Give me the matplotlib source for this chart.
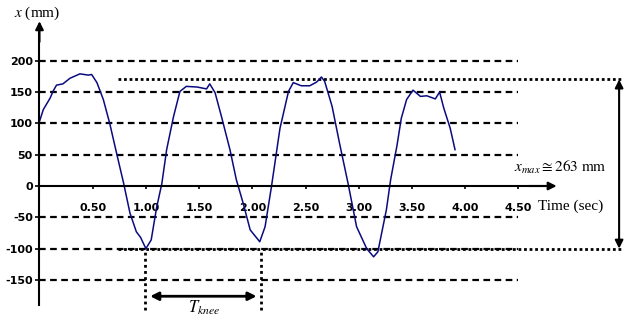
import matplotlib
matplotlib.use('Agg')
import matplotlib.pyplot as plt

plt.rcParams['mathtext.fontset'] = 'stix'
plt.rcParams['axes.unicode_minus'] = False

# knee displacement over time
time_s = [0, 0.036, 0.099, 0.13, 0.16, 0.22, 0.287, 0.38, 0.42, 0.46, 0.49, 0.54,
          0.60, 0.66, 0.725, 0.79, 0.85, 0.91, 0.95, 1.00, 1.05, 1.10, 1.15,
          1.195, 1.26, 1.32, 1.38, 1.48, 1.57, 1.60, 1.65, 1.71, 1.79, 1.85,
          1.915, 1.98, 2.07, 2.12, 2.18, 2.26, 2.34, 2.385, 2.46, 2.54, 2.605,
          2.65, 2.68, 2.75, 2.82, 2.90, 2.98, 3.075, 3.14, 3.18, 3.26, 3.30,
          3.36, 3.40, 3.45, 3.51, 3.58, 3.64, 3.72, 3.76, 3.80, 3.86, 3.905]
x_mm = [103, 122, 140, 152, 161, 163, 172, 179, 178, 177, 178, 165,
        138, 100, 52, 5, -43, -73, -82, -100, -86, -35, 4,
        58, 111, 151, 159, 158, 155, 163, 149, 111, 58, 10,
        -28, -70, -89, -65, -1, 92, 151, 165, 160, 160, 166,
        174, 167, 127, 68, 4, -65, -100, -113, -105, -38, 10,
        65, 108, 138, 153, 143, 144, 139, 150, 124, 92, 58]

grid_levels = [200, 150, 100, 50, -50, -100, -150]
x_ticks = [0.5, 1.0, 1.5, 2.0, 2.5, 3.0, 3.5, 4.0, 4.5]
y_ticks = [-150, -100, -50, 0, 50, 100, 150, 200]
x_high = 170
x_low = -100
t_min1 = 0.99
t_min2 = 2.08

fig = plt.figure(figsize=(6.24, 3.22), dpi=100)
ax = fig.add_axes([0, 0, 1, 1])
ax.set_xlim(-0.371, 5.493)
ax.set_ylim(-217.1, 296.9)

# dashed reference levels
ax.hlines(grid_levels, 0, 4.5, colors='black', linestyles=(0, (3, 2)), lw=1.6)
# dotted max / min levels
ax.hlines([x_high, x_low], 0.74, 5.47, colors='black', linestyles=(0, (1, 1)), lw=2)
# vertical dotted lines at the minima
ax.vlines([t_min1, t_min2], -198, x_low, colors='black', linestyles=(0, (1, 1.2)), lw=2)

ax.plot(time_s, x_mm, color='#0b0b80', lw=1.1)

# axes
for s in ['top', 'right']:
    ax.spines[s].set_visible(False)
ax.spines['left'].set_position(('data', 0))
ax.spines['bottom'].set_position(('data', 0))
ax.spines['left'].set_bounds(-190, 250)
ax.spines['bottom'].set_bounds(0, 4.75)
ax.spines['left'].set_linewidth(1.5)
ax.spines['bottom'].set_linewidth(1.5)
ax.annotate('', xy=(0, 263), xytext=(0, 230),
            arrowprops=dict(arrowstyle='-|>', color='black', lw=1.5, mutation_scale=12,
                            shrinkA=0, shrinkB=0))
ax.annotate('', xy=(4.86, 0), xytext=(4.6, 0),
            arrowprops=dict(arrowstyle='-|>', color='black', lw=1.5, mutation_scale=12,
                            shrinkA=0, shrinkB=0))

ax.set_xticks(x_ticks)
ax.set_xticklabels(['%.2f' % v for v in x_ticks])
ax.set_yticks(y_ticks)
ax.tick_params(axis='x', direction='out', length=2.5, width=1.2, pad=10)
ax.tick_params(axis='y', direction='inout', length=5.5, width=1.2, pad=2)
for lab in ax.get_xticklabels() + ax.get_yticklabels():
    lab.set_fontsize(8)
    lab.set_fontweight('bold')
    lab.set_family('DejaVu Sans')

# range arrow
ax.annotate('', xy=(5.447, x_low), xytext=(5.447, x_high),
            arrowprops=dict(arrowstyle='<|-|>', color='black', lw=1.5, mutation_scale=12,
                            shrinkA=0, shrinkB=0))
# period arrow
ax.annotate('', xy=(1.04, -176), xytext=(2.04, -176),
            arrowprops=dict(arrowstyle='<|-|>', color='black', lw=2, mutation_scale=12,
                            shrinkA=0, shrinkB=0))

ax.text(1.55, -195, r'$T_{knee}$', ha='center', va='center', fontsize=12)
ax.text(5.33, 30, r'$x_{max} \cong 263\ \mathrm{mm}$', ha='right', va='center', fontsize=11)
ax.text(4.685, -32, 'Time (sec)', ha='left', va='center', fontsize=11,
        family='Liberation Serif')
ax.text(-0.02, 276, r'$x$ (mm)', ha='center', va='center', fontsize=11,
        family='Liberation Serif')

fig.savefig('out.png', dpi=100)
